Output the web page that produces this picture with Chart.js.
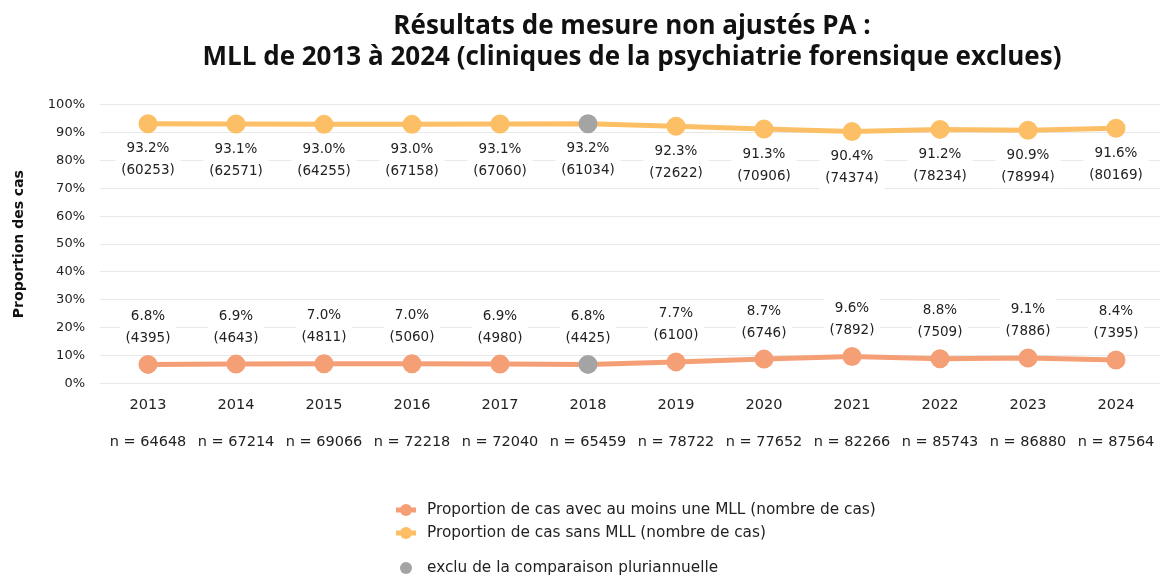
<!DOCTYPE html>
<html>
<head>
<meta charset="utf-8">
<script src="https://cdn.jsdelivr.net/npm/chart.js@4"></script>
<style>
  html, body { margin: 0; padding: 0; background: #fff; overflow: hidden; }
  #wrap { width: 1160px; height: 578px; position: relative; }
</style>
</head>
<body>
<div id="wrap"><canvas id="lineChart"></canvas></div>
<script>
const years = ['2013', '2014', '2015', '2016', '2017', '2018', '2019', '2020', '2021', '2022', '2023', '2024']
const totals = [64648, 67214, 69066, 72218, 72040, 65459, 78722, 77652, 82266, 85743, 86880, 87564]

const avecPct = [6.8, 6.9, 7.0, 7.0, 6.9, 6.8, 7.7, 8.7, 9.6, 8.8, 9.1, 8.4]
const avecCas = [4395, 4643, 4811, 5060, 4980, 4425, 6100, 6746, 7892, 7509, 7886, 7395]

const sansPct = [93.2, 93.1, 93.0, 93.0, 93.1, 93.2, 92.3, 91.3, 90.4, 91.2, 90.9, 91.6]
const sansCas = [60253, 62571, 64255, 67158, 67060, 61034, 72622, 70906, 74374, 78234, 78994, 80169]

const excluIndex = 5  // 2018

const colAvec = '#f59f76'
const colSans = '#fdbf66'
const colExclu = '#a4a4a4'
const fontFam = "'DejaVu Sans', sans-serif"

function pointColors(col) {
    return years.map((y, i) => i === excluIndex ? colExclu : col)
}

// labels under/over each point, white box behind
const valueLabels = {
    id: 'valueLabels',
    afterDatasetsDraw(chart) {
        const ctx = chart.ctx
        ctx.save()
        ctx.font = '13.5px ' + fontFam
        ctx.textAlign = 'center'
        ctx.textBaseline = 'middle'
        chart.data.datasets.forEach((ds, di) => {
            const meta = chart.getDatasetMeta(di)
            meta.data.forEach((pt, i) => {
                const l1 = ds.data[i].toFixed(1) + '%'
                const l2 = '(' + ds.counts[i] + ')'
                const y1 = ds.below ? pt.y + 25 : pt.y - 48
                const y2 = y1 + 22
                const w = Math.max(ctx.measureText(l1).width, ctx.measureText(l2).width) + 12
                ctx.fillStyle = '#fff'
                ctx.fillRect(pt.x - w / 2, y1 - 11, w, 44)
                ctx.fillStyle = '#222'
                ctx.fillText(l1, pt.x, y1)
                ctx.fillText(l2, pt.x, y2)
            })
        })
        ctx.restore()
    }
}

// legend as a left aligned column at the bottom
const bottomLegend = {
    id: 'bottomLegend',
    afterDraw(chart) {
        const ctx = chart.ctx
        const x0 = 396
        const items = [
            { text: chart.data.datasets[0].label, col: colAvec, line: true, y: 510 },
            { text: chart.data.datasets[1].label, col: colSans, line: true, y: 533 },
            { text: 'exclu de la comparaison pluriannuelle', col: colExclu, line: false, y: 568 }
        ]
        ctx.save()
        ctx.font = '15.3px ' + fontFam
        ctx.textBaseline = 'middle'
        items.forEach(it => {
            if (it.line) {
                ctx.strokeStyle = it.col
                ctx.lineWidth = 5
                ctx.beginPath()
                ctx.moveTo(x0, it.y)
                ctx.lineTo(x0 + 20, it.y)
                ctx.stroke()
            }
            ctx.fillStyle = it.col
            ctx.beginPath()
            ctx.arc(x0 + 10, it.y, 6, 0, Math.PI * 2)
            ctx.fill()
            ctx.fillStyle = '#222'
            ctx.fillText(it.text, x0 + 31, it.y)
        })
        ctx.restore()
    }
}

const cxc = document.getElementById('lineChart').getContext('2d')
const LineChart = new Chart(cxc, {
    type: 'line',
    data: {
        labels: years.map((y, i) => [y, '', 'n = ' + totals[i]]),
        datasets: [
            {
                label: 'Proportion de cas avec au moins une MLL (nombre de cas)',
                data: avecPct,
                counts: avecCas,
                below: false,
                borderColor: colAvec,
                backgroundColor: colAvec,
                pointBackgroundColor: pointColors(colAvec),
                pointBorderColor: pointColors(colAvec),
                borderWidth: 5,
                pointRadius: 7,
                pointHoverRadius: 7,
                tension: 0
            },
            {
                label: 'Proportion de cas sans MLL (nombre de cas)',
                data: sansPct,
                counts: sansCas,
                below: true,
                borderColor: colSans,
                backgroundColor: colSans,
                pointBackgroundColor: pointColors(colSans),
                pointBorderColor: pointColors(colSans),
                borderWidth: 5,
                pointRadius: 7,
                pointHoverRadius: 7,
                tension: 0
            }
        ]
    },
    options: {
        responsive: true,
        maintainAspectRatio: false,
        animation: false,
        layout: {
            autoPadding: false,
            padding: { left: 2, right: 0, top: 0, bottom: 121 }
        },
        plugins: {
            legend: {
                display: false
            },
            tooltip: {
                enabled: false
            },
            title: {
                display: true,
                fullSize: false,
                text: ['Résultats de mesure non ajustés PA :', 'MLL de 2013 à 2024 (cliniques de la psychiatrie forensique exclues)'],
                color: '#111',
                font: {
                    family: "'Open Sans', sans-serif",
                    size: 26,
                    weight: '700',
                    lineHeight: 1.19
                },
                padding: { top: 11, bottom: 32 }
            }
        },
        scales: {
            x: {
                offset: true,
                grid: { display: false },
                border: { display: false },
                ticks: {
                    color: '#222',
                    padding: 5,
                    maxRotation: 0,
                    autoSkip: false,
                    font: { family: fontFam, size: 14.5, lineHeight: 1.28 }
                },
                afterFit: s => { s.paddingLeft = 0; s.paddingRight = 0 }
            },
            y: {
                min: 0,
                max: 100,
                grid: { color: '#e8e8e8', lineWidth: 1, tickLength: 4 },
                border: { display: false },
                ticks: {
                    stepSize: 10,
                    color: '#222',
                    padding: 15,
                    font: { family: fontFam, size: 13 },
                    callback: v => v + '%'
                },
                title: {
                    display: true,
                    text: 'Proportion des cas',
                    color: '#111',
                    font: { family: fontFam, size: 14, weight: 'bold' },
                    padding: { top: 9, bottom: 4 }
                },
                afterFit: s => { s.width = 102 }
            }
        }
    },
    plugins: [valueLabels, bottomLegend]
});
</script>
</body>
</html>
